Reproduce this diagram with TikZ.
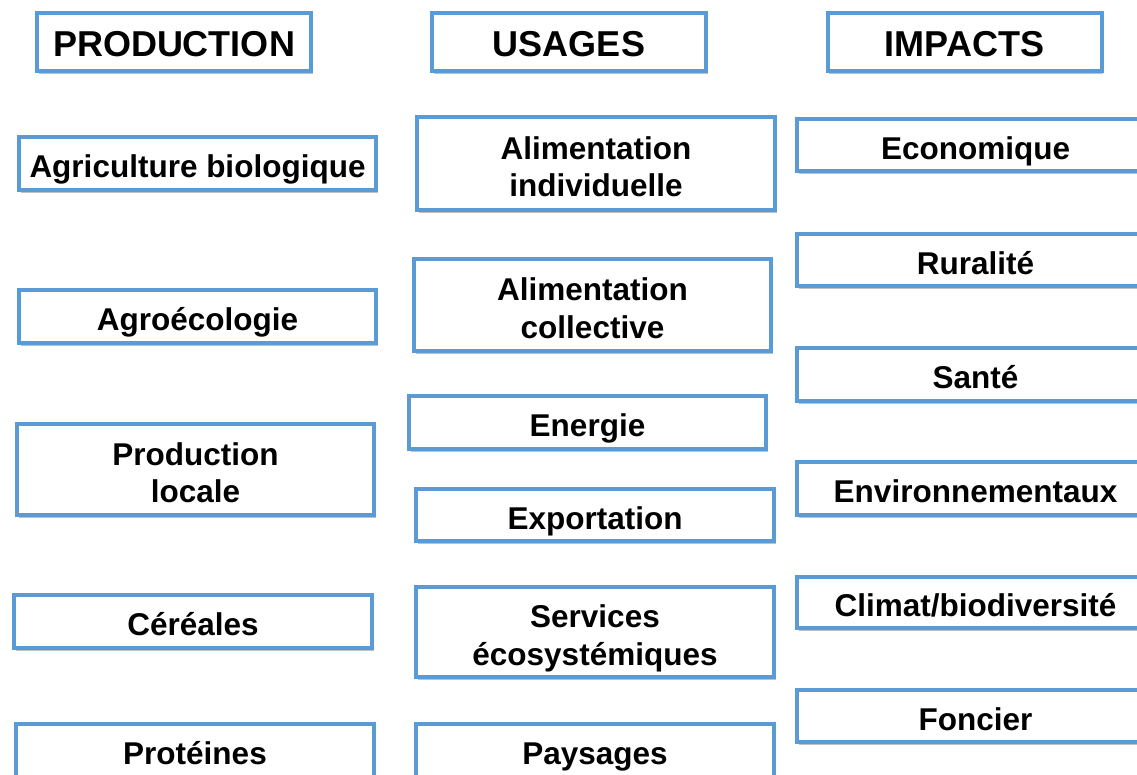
\documentclass[tikz,border=0pt]{standalone}
\usepackage{fontspec}
\setmainfont{Liberation Sans}
\usetikzlibrary{shadows}
\definecolor{boxblue}{RGB}{91,155,213}
\newcommand{\topgap}{\rule{0pt}{29pt}}

\begin{document}
\begin{tikzpicture}[x=1pt,y=-1pt,
    base/.style={draw=boxblue, line width=4pt, fill=white,
        inner sep=0pt, minimum width=357pt, text depth=0pt,
        font=\fontsize{31.5}{37.5}\selectfont\bfseries,
        drop shadow={shadow xshift=1.5pt, shadow yshift=-3pt, opacity=.35, fill=black!70}},
    box/.style={base, minimum height=53pt, text height=28pt},
    head/.style={box, minimum width=274pt, minimum height=58pt, text height=29pt,
        font=\fontsize{36}{40}\selectfont\bfseries},
    tall/.style={base, align=center, minimum height=92pt}]
    \useasboundingbox (0,0) rectangle (1137,774);

    % column titles
    \node[head] (prod) at (174,42) {PRODUCTION};
    \node[head] (usag) at (569,42) {USAGES};
    \node[head] (imp) at (964.5,42) {IMPACTS};

    % production
    \node[box] (agribio) at (197.5,163.5) {Agriculture biologique};
    \node[box] (agroeco) at (197.5,316.5) {Agroécologie};
    \node[tall, minimum height=91pt] (prodloc) at (195.5,469.5) {\topgap Production\\locale};
    \node[box, minimum width=358pt] (cereales) at (193,621.5) {Céréales};
    \node[box, minimum width=358pt] (proteines) at (195,750.5) {Protéines};

    % usages
    \node[tall, minimum width=358pt, minimum height=93pt] (alimind) at (596,163.5) {\topgap Alimentation\\individuelle};
    \node[tall] (alimcol) at (592.5,305) {\topgap Alimentation\\collective};
    \node[box] (energie) at (587.5,422.5) {Energie};
    \node[box, minimum width=358pt, minimum height=52pt] (export) at (595,515) {Exportation};
    \node[tall, minimum width=358pt, minimum height=90pt] (services) at (595,632) {\topgap Services\\écosystémiques};
    \node[box, minimum width=358pt] (paysages) at (595,750.5) {Paysages};

    % impacts
    \node[box, minimum height=52pt] (eco) at (975.5,145) {Economique};
    \node[box, minimum height=52pt] (rural) at (975.5,260) {Ruralité};
    \node[box] (sante) at (975.5,374.5) {Santé};
    \node[box] (env) at (975.5,488.5) {Environnementaux};
    \node[box, minimum height=51pt] (climat) at (975.5,602.5) {Climat/biodiversité};
    \node[box, minimum height=52pt] (foncier) at (975.5,716) {Foncier};
\end{tikzpicture}
\end{document}
